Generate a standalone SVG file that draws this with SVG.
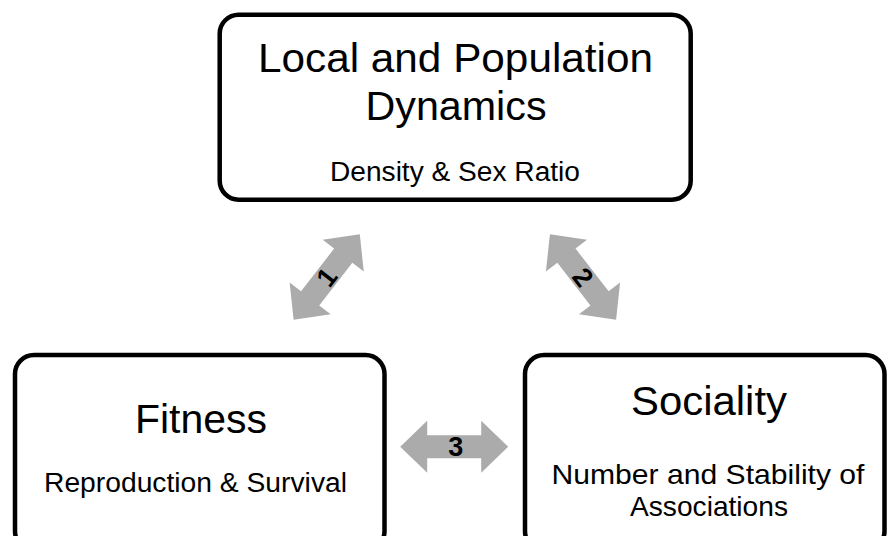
<svg xmlns="http://www.w3.org/2000/svg" width="888" height="536" viewBox="0 0 888 536">
<defs>
<style>
.box{fill:#ffffff;stroke:#000000;stroke-width:4.5}
.t{font-family:"Liberation Sans",Arial,sans-serif;fill:#000000;text-anchor:middle}
.title{font-size:41px}
.sub{font-size:27px}
.arr{fill:#ABABAB;stroke:none}
.num{font-family:"Liberation Sans",Arial,sans-serif;font-weight:bold;font-size:27px;fill:#000000;text-anchor:middle}
</style>
<path id="dbl" d="M -54 0 L -27 -26 L -27 -11.5 L 27 -11.5 L 27 -26 L 54 0 L 27 26 L 27 11.5 L -27 11.5 L -27 26 Z"/>
</defs>
<rect width="888" height="536" fill="#ffffff"/>
<g id="node-dynamics">
<rect class="box" x="219.7" y="14.7" width="471" height="185" rx="19" ry="19"/>
<text class="t title" x="455.5" y="72" textLength="395" lengthAdjust="spacingAndGlyphs">Local and Population</text>
<text class="t title" x="456" y="120" textLength="181" lengthAdjust="spacingAndGlyphs">Dynamics</text>
<text class="t sub" x="455" y="181" textLength="250" lengthAdjust="spacingAndGlyphs">Density &amp; Sex Ratio</text>
</g>
<g id="node-fitness">
<rect class="box" x="15" y="355" width="369.5" height="195" rx="19" ry="19"/>
<text class="t title" x="201" y="433" textLength="132" lengthAdjust="spacingAndGlyphs">Fitness</text>
<text class="t sub" x="195.5" y="492" textLength="303" lengthAdjust="spacingAndGlyphs">Reproduction &amp; Survival</text>
</g>
<g id="node-sociality">
<rect class="box" x="525" y="355" width="359.5" height="195" rx="19" ry="19"/>
<text class="t title" x="709" y="415" textLength="156" lengthAdjust="spacingAndGlyphs">Sociality</text>
<text class="t" style="font-size:28px" x="708" y="484" textLength="313" lengthAdjust="spacingAndGlyphs">Number and Stability of</text>
<text class="t" style="font-size:28px" x="709" y="516" textLength="158" lengthAdjust="spacingAndGlyphs">Associations</text>
</g>
<g id="connectors">
<g id="arrow-1" transform="translate(326.7,277) rotate(-52.2)">
<use href="#dbl" class="arr"/>
<text class="num" x="0" y="9.5">1</text>
</g>
<g id="arrow-2" transform="translate(583,277) rotate(52.2)">
<use href="#dbl" class="arr"/>
<text class="num" x="0" y="9.5">2</text>
</g>
<g id="arrow-3" transform="translate(454.2,446.7)">
<use href="#dbl" class="arr"/>
<text class="num" x="1.5" y="9.5">3</text>
</g>
</g>
</svg>
